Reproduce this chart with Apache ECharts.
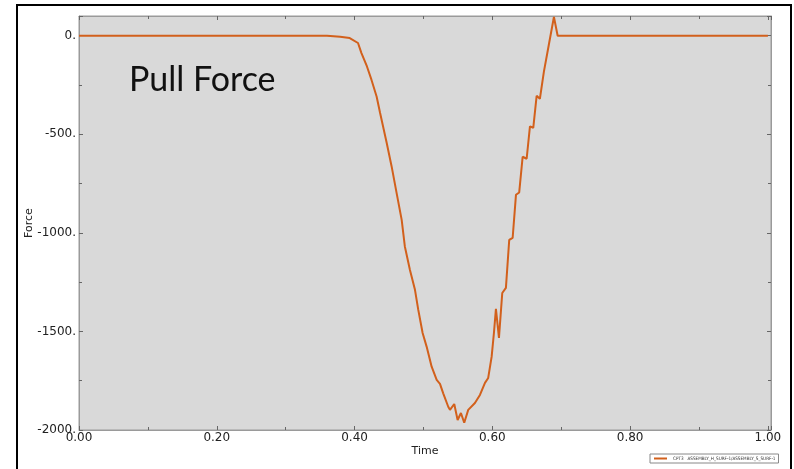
<!DOCTYPE html>
<html>
<head>
<meta charset="utf-8">
<script src="https://cdn.jsdelivr.net/npm/echarts@6/dist/echarts.min.js"></script>
<style>html,body{margin:0;padding:0;background:#fff;}#c{width:794px;height:469px;}</style>
</head>
<body>
<div id="c"></div>
<script>
// Data
const times = [0, 0.36, 0.379, 0.393, 0.405, 0.410, 0.418, 0.4245, 0.432, 0.437, 0.4466, 0.4538, 0.461, 0.4684, 0.473, 0.4804, 0.4877, 0.4925, 0.4988, 0.5046, 0.5119, 0.5192, 0.524, 0.5287, 0.536, 0.5385, 0.5447, 0.5496, 0.5544, 0.5592, 0.565, 0.5747, 0.582, 0.5893, 0.594, 0.599, 0.6023, 0.6052, 0.6096, 0.6144, 0.6197, 0.6245, 0.6295, 0.6343, 0.639, 0.644, 0.6498, 0.6546, 0.6594, 0.6643, 0.669, 0.6749, 0.682, 0.6894, 0.6948, 1.0];
const forces = [0, 0, -5, -12, -37, -88, -156, -223, -308, -391, -543, -663, -797, -934, -1069, -1188, -1289, -1391, -1508, -1577, -1679, -1746, -1766, -1814, -1882, -1898, -1868, -1949, -1914, -1963, -1898, -1863, -1822, -1761, -1736, -1628, -1508, -1386, -1533, -1305, -1279, -1036, -1025, -807, -795, -614, -624, -460, -467, -305, -320, -181, -46, 95, 0, 0];
const xTickLabels = ['0.00', '0.20', '0.40', '0.60', '0.80', '1.00'];
const yTickLabels = ['-2000.', '-1500.', '-1000.', '-500.', '0.'];
const seriesName = 'CPT3   ASSEMBLY_H_SURF-1/ASSEMBLY_S_SURF-1';
const chartTitle = 'Pull Force';

const chart = echarts.init(document.getElementById('c'));
const axisFont = {fontFamily: 'DejaVu Sans', fontSize: 12, color: '#222'};
const tickStyle = {color: '#666', width: 1};
const lineAx = {onZero: false, lineStyle: {color: '#9a9a9a', width: 1}};
const xMax = 1.0045, yMax = 100;

chart.setOption({
  animation: false,
  backgroundColor: '#fff',
  grid: {left: 79, right: 23, top: 16, bottom: 39, show: true, backgroundColor: '#d9d9d9', borderColor: '#9a9a9a', borderWidth: 1},
  xAxis: [{
    type: 'value', min: 0, max: xMax, interval: 0.2,
    name: 'Time', nameLocation: 'middle', nameGap: 16, nameMoveOverlap: false,
    nameTextStyle: {fontFamily: 'DejaVu Sans', fontSize: 11, color: '#222'},
    axisLine: lineAx, splitLine: {show: false},
    axisTick: {inside: true, length: 4, lineStyle: tickStyle},
    minorTick: {show: true, splitNumber: 2, length: 3, lineStyle: tickStyle},
    axisLabel: Object.assign({margin: 2, formatter: v => {
      const i = Math.round(v * 5);
      return Math.abs(v * 5 - i) < 1e-6 ? xTickLabels[i] : '';
    }}, axisFont)
  }, {
    type: 'value', position: 'top', min: 0, max: xMax, interval: 0.2,
    axisLine: lineAx, splitLine: {show: false},
    axisTick: {inside: true, length: 4, lineStyle: tickStyle},
    minorTick: {show: true, splitNumber: 2, length: 3, lineStyle: tickStyle},
    axisLabel: {show: false}
  }],
  yAxis: [{
    type: 'value', min: -2000, max: yMax, interval: 500,
    name: 'Force', nameLocation: 'middle', nameGap: 44, nameMoveOverlap: false,
    nameTextStyle: {fontFamily: 'DejaVu Sans', fontSize: 11, color: '#222'},
    axisLine: {show: true, onZero: false, lineStyle: {color: '#9a9a9a', width: 1}}, splitLine: {show: false},
    axisTick: {show: true, inside: true, length: 4, lineStyle: tickStyle},
    minorTick: {show: true, splitNumber: 2, length: 3, lineStyle: tickStyle},
    axisLabel: Object.assign({margin: 3, formatter: v => {
      const i = Math.round((v + 2000) / 500);
      return Math.abs((v + 2000) / 500 - i) < 1e-6 && i < yTickLabels.length ? yTickLabels[i] : '';
    }}, axisFont)
  }, {
    type: 'value', position: 'right', min: -2000, max: yMax, interval: 500,
    axisLine: {show: true, onZero: false, lineStyle: {color: '#9a9a9a', width: 1}}, splitLine: {show: false},
    axisTick: {show: true, inside: true, length: 4, lineStyle: tickStyle},
    minorTick: {show: true, splitNumber: 2, length: 3, lineStyle: tickStyle},
    axisLabel: {show: false}
  }],
  legend: {
    left: 650, top: 454, itemWidth: 13, itemHeight: 2, itemGap: 4,
    icon: 'rect', padding: [2, 3, 2, 4],
    borderColor: '#888', borderWidth: 1, backgroundColor: '#fff',
    textStyle: {fontFamily: 'DejaVu Sans Condensed', fontSize: 4.6, color: '#333', padding: [0, 0, 0, 1]},
    data: [seriesName]
  },
  series: [{
    name: seriesName, type: 'line', xAxisIndex: 0, yAxisIndex: 0,
    showSymbol: false, symbol: 'none',
    lineStyle: {color: '#d2601c', width: 2}, itemStyle: {color: '#d2601c'},
    data: times.map((t, i) => [t, forces[i]])
  }],
  graphic: [
    {type: 'rect', shape: {x: 17, y: 5, width: 774, height: 480}, style: {fill: 'none', stroke: '#000', lineWidth: 2}, silent: true, z: 100},
    {type: 'text', left: 129, top: 63, style: {text: chartTitle, font: '34px Lato', fill: '#111'}, z: 100}
  ]
});
</script>
</body>
</html>
